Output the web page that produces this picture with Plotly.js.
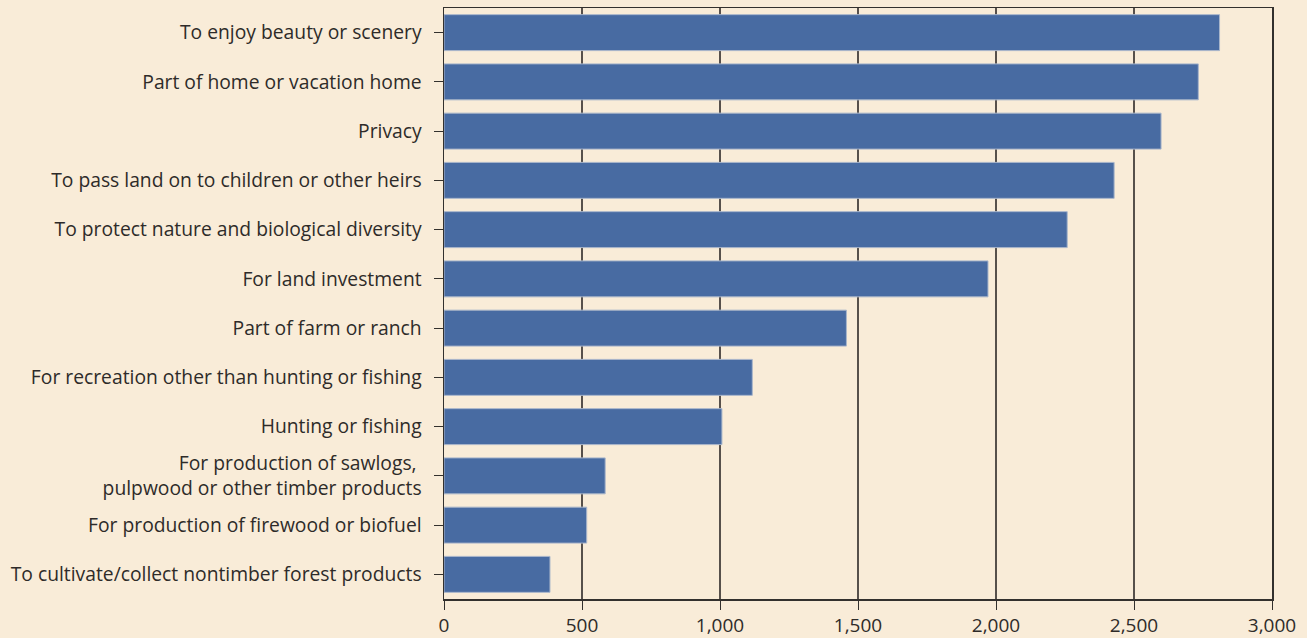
<!DOCTYPE html>
<html>
<head>
<meta charset="utf-8">
<script src="https://cdn.plot.ly/plotly-3.0.1.min.js"></script>
<style>
  html, body { margin: 0; padding: 0; background: #f9ecd8; }
  #chart { width: 1307px; height: 638px; }
</style>
</head>
<body>
<div id="chart"></div>
<script>
// Categories, top to bottom as shown
const categories = [
  "To enjoy beauty or scenery",
  "Part of home or vacation home",
  "Privacy",
  "To pass land on to children or other heirs",
  "To protect nature and biological diversity",
  "For land investment",
  "Part of farm or ranch",
  "For recreation other than hunting or fishing",
  "Hunting or fishing",
  "For production of sawlogs, <br>pulpwood or other timber products",
  "For production of firewood or biofuel",
  "To cultivate/collect nontimber forest products"
];
const values = [2810, 2733, 2598, 2428, 2258, 1971, 1458, 1117, 1007, 584, 517, 384];
const xTickVals = [0, 500, 1000, 1500, 2000, 2500, 3000];
const xTickText = ["0", "500", "1,000", "1,500", "2,000", "2,500", "3,000"];

const trace = {
  type: "bar",
  orientation: "h",
  x: values,
  y: categories,
  marker: { color: "#486ba2", line: { color: "#a9b6cb", width: 1 } },
  width: 0.73,
  hoverinfo: "x+y"
};

const layout = {
  width: 1307,
  height: 638,
  paper_bgcolor: "#f9ecd8",
  plot_bgcolor: "#f9ecd8",
  margin: { l: 444, r: 35, t: 8, b: 39, pad: 0 },
  showlegend: false,
  font: { family: "Open Sans, sans-serif", color: "#2e2b29", size: 19 },
  xaxis: {
    range: [0, 3000],
    tickvals: xTickVals,
    ticktext: xTickText,
    showgrid: true,
    gridcolor: "#57504b",
    gridwidth: 1.2,
    zeroline: false,
    showline: true,
    linecolor: "#33302d",
    linewidth: 1.5,
    mirror: true,
    ticks: "outside",
    ticklen: 9,
    tickcolor: "#33302d",
    tickfont: { size: 19, color: "#2e2b29" },
    fixedrange: true
  },
  yaxis: {
    type: "category",
    categoryorder: "array",
    categoryarray: categories.slice().reverse(),
    range: [-0.5, 11.5],
    showgrid: false,
    zeroline: false,
    showline: true,
    linecolor: "#33302d",
    linewidth: 1.5,
    mirror: true,
    ticks: "outside",
    ticklen: 9,
    tickcolor: "#33302d",
    ticklabelstandoff: 8,
    tickfont: { size: 19.3, color: "#2e2b29" },
    fixedrange: true
  }
};

Plotly.newPlot("chart", [trace], layout, { displayModeBar: false, staticPlot: true });
</script>
</body>
</html>
